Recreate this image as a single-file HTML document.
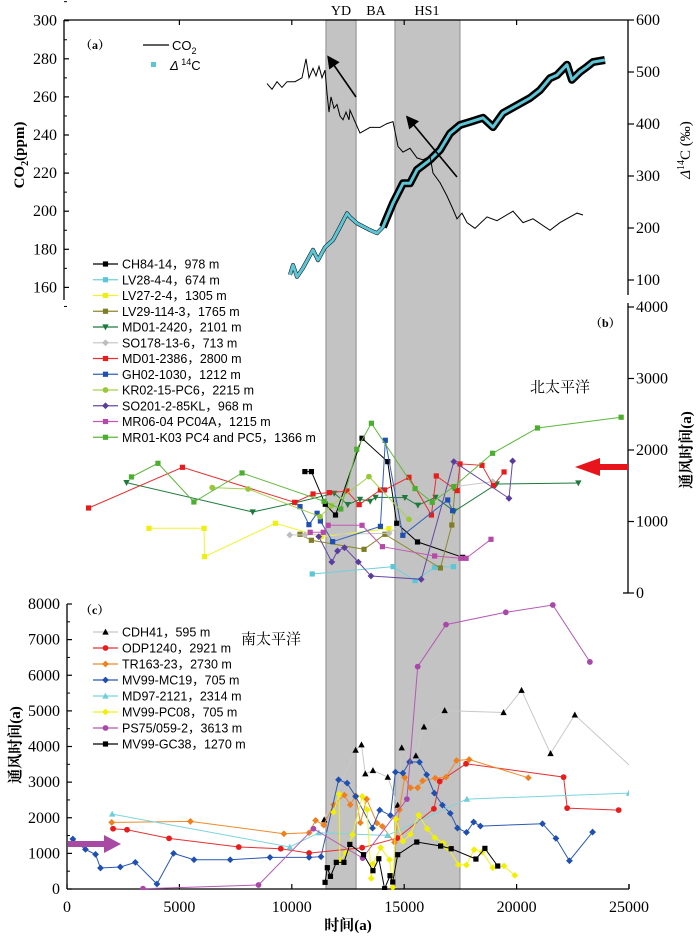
<!DOCTYPE html>
<html><head><meta charset="utf-8"><style>
html,body{margin:0;padding:0;background:#fff;}
svg{display:block;}
.ser{font-family:"Liberation Serif","Noto Serif CJK SC",serif;}
.san{font-family:"Liberation Sans","Noto Sans CJK SC",sans-serif;}
</style></head><body>
<svg id="fig" width="700" height="938" viewBox="0 0 700 938" xmlns="http://www.w3.org/2000/svg">
<defs><clipPath id="clipc"><rect x="67" y="560" width="562" height="330"/></clipPath>
<marker id="ah" markerWidth="8" markerHeight="8" refX="6" refY="4" orient="auto"><path d="M0,0 L8,4 L0,8 z" fill="#000"/></marker></defs>
<g id="bands"></g>
<g id="axes"></g>
<g id="marks"></g>
<g id="labels">
<text class="ser" x="341" y="15" font-size="14" text-anchor="middle">YD</text>
<text class="ser" x="376" y="15" font-size="14" text-anchor="middle">BA</text>
<text class="ser" x="427" y="15" font-size="14" text-anchor="middle">HS1</text>
<text class="ser" x="80" y="49" font-size="12" font-weight="bold">（a）</text>
<text class="ser" x="590" y="327" font-size="12" font-weight="bold">（b）</text>
<text class="ser" x="80" y="614" font-size="12" font-weight="bold">（c）</text>
<text class="ser" x="530" y="392" font-size="15">北太平洋</text>
<text class="ser" x="241" y="644" font-size="15">南太平洋</text>
<text class="ser" font-size="15" font-weight="bold" transform="translate(24,155) rotate(-90)" text-anchor="middle">CO<tspan font-size="10" dy="4">2</tspan><tspan dy="-4">(ppm)</tspan></text>
<text class="ser" font-size="15" transform="translate(690,150) rotate(-90)" text-anchor="middle"><tspan font-style="italic">Δ</tspan><tspan font-size="10" dy="-6">14</tspan><tspan dy="6">C (‰)</tspan></text>
<text class="ser" font-size="15" font-weight="bold" transform="translate(691,450) rotate(-90)" text-anchor="middle">通风时间(a)</text>
<text class="ser" font-size="15" font-weight="bold" transform="translate(20,745) rotate(-90)" text-anchor="middle">通风时间(a)</text>
<text class="ser" font-size="15" font-weight="bold" x="348" y="930" text-anchor="middle">时间(a)</text>
</g>
<g id="legend"></g>
</svg>
<script>
// ---- panel a data ----
const co2Years=[8896,9119,9341,9563,9786,10141,10453,10631,10764,10942,11076,11209,11343,11476,11565,11654,11743,11876,12010,12143,12277,12410,12544,12588,13033,13477,13922,14234,14500,14723,14945,15257,15568,15835,16146,16280,16591,16902,17169,17347,17570,17792,18148,18682,19126,19838,20283,20728,21484,21929,22685,22952];
const co2Vals=[267,264,268,265,268,268,270,280,270,275,271,276,270,274,262,252,260,254,256,250,248,252,248,253,241,244,244,246,247,234,231,233,228,227,229,220,215,208,201,196,199,194,191,197,195,200,194,196,190,194,199,198];
const d14cYears=[9919,10052,10230,10497,10942,11164,11476,11832,12143,12454,12588,12899,13477,13789,14056,14500,14945,15257,15568,16146,16591,17036,17481,17926,18504,18949,19393,20016,20594,21039,21484,21795,22240,22462,22818,23130,23396,23930];
const d14cVals=[110,129,106,123,158,138,163,177,202,228,221,209,196,190,202,248,286,286,312,331,350,382,398,404,412,394,421,436,450,465,488,494,514,485,500,510,519,523];
// ---- panel b data ----
const ch84Y=[10582,10873,11490,11944,13124,14268,14667,15593,17600];
const ch84V=[1698,1698,1241,1091,2164,1837,975,714,499];
const lv28Y=[10909,14504,15484,16355,17190];
const lv28V=[266,369,173,359,369];
const lv27Y=[3647,6098,6116,9275,11308,14322];
const lv27V=[905,905,508,975,788,900];
const lv29Y=[10364,10873,13214,14140,16610,17118,17263];
const lv29V=[821,737,611,821,350,951,1464];
const md2420Y=[2648,8258,10183,11889,12488,13033,13487,13723,15030,15611,16392,17227,19115,22746];
const md2420V=[1544,1133,1264,1394,1236,1310,1282,1338,1334,1227,1338,1142,1525,1539];
const so178Y=[9910,10582,14322,17263,18933];
const so178V=[812,812,835,1488,1558];
const md2386Y=[960,5136,10128,10945,11671,12452,12997,13941,14122,15212,16210,16428,17354,17481,18461,18970,19442];
const md2386V=[1189,1758,1268,1385,1404,1427,1236,1441,1441,1618,1091,1637,1432,1805,1786,1502,1693];
const gh02Y=[10364,10763,11126,11272,11816,13941,14159,14939,16936,17154];
const gh02V=[1208,956,1115,1007,718,932,2136,807,1301,1152];
const kr02Y=[6461,8058,11254,11762,13432,15212];
const kr02V=[1474,1455,1068,1222,1628,1031];
const so201Y=[11199,11780,12034,12343,12960,13523,15756,17208,19660,19823];
const so201V=[788,434,588,634,434,238,191,1837,1324,1847];
const mr06Y=[10818,11399,11617,13124,14031,16355,17517,17754,18861];
const mr06V=[849,849,947,947,648,518,485,485,751];
const mr01Y=[2866,4046,5644,7786,11435,12180,12888,13541,15484,16247,17208,18933,20930,24651];
const mr01V=[1623,1814,1273,1679,1282,1175,2010,2374,1460,1269,1488,1954,2308,2458];
// ---- panel c data ----
const cdhY=[11440,12840,13100,13270,13610,14270,14710,14890,15260,15520,15880,16800,19420,20220,21510,22590,26000];
const cdhV=[1944,3897,4047,3234,3327,3140,2355,3963,3598,3738,4551,5009,4953,5580,3804,4888,2900];
const odpY=[2050,2670,4540,7640,9510,10770,13130,14690,16320,16580,17750,22090,22250,24540];
const odpV=[1692,1664,1421,1178,1131,1009,1159,1430,2252,3019,3514,3140,2271,2215];
const trY=[1990,5490,9650,10770,11060,11420,11860,12340,12600,12840,13050,13330,13790,14030,14570,14790,15020,15280,15600,15820,16380,16860,17330,17890,20520];
const trV=[1869,1897,1551,1579,1925,1794,2365,2636,2365,2617,1860,2524,1850,1757,1308,2224,3131,2841,2841,3037,3112,3140,3608,3636,3122];
const mc19Y=[260,820,1270,1490,2370,3040,4000,4740,5650,7260,9030,10770,11300,12080,12460,12840,13590,13910,14390,14610,14940,15240,15680,16000,16340,16700,17050,17370,17770,18090,18390,21150,21750,22350,23380];
const mc19V=[1402,1112,972,589,617,748,140,1000,822,822,888,888,907,3065,2972,2598,1710,2215,2065,3280,3252,3570,3561,3206,2692,2355,2122,1710,1589,1879,1766,1832,1421,794,1598];
const md97Y=[2010,9910,11200,14250,17790,25000];
const md97V=[2103,1178,1579,1505,2523,2692];
const pc08Y=[11860,12100,12140,12400,12700,13130,13350,13530,13610,13950,14350,14490,14630,14940,15280,15640,16020,16360,16730,16960,17410,17770,18110,18470,18940,19440,19920];
const pc08V=[2159,2664,794,1009,1523,2598,2224,299,701,1159,822,47,1963,1336,1533,2075,1692,1439,1290,1140,682,673,1103,1037,598,645,383];
const ps75Y=[3380,8520,10960,13150,15120,15600,16860,19520,21610,23260];
const ps75V=[9,112,1692,869,2523,6243,7421,7767,7972,6374];
const gc38Y=[11480,11580,11720,11980,12320,12580,13190,13610,13870,14130,14370,14490,14710,15560,16620,17090,18190,18590,19160];
const gc38V=[187,598,355,748,748,1252,963,514,850,9,374,196,963,1318,1206,1131,841,1140,645];
// ---- tick labels ----
const xTicks=[0,5000,10000,15000,20000,25000];
const co2Ticks=[160,180,200,220,240,260,280,300];
const d14cTicks=[100,200,300,400,500,600];
const bTicks=[0,1000,2000,3000,4000];
const cTicks=[0,1000,2000,3000,4000,5000,6000,7000,8000];
const bandStarts=[11520,14590];
const bandEnds=[12860,17480];

const NS="http://www.w3.org/2000/svg";
const X=y=>67+y*0.02248;
const YA=v=>20.7+(300-v)*1.905;
const YD=v=>20+(600-v)*0.52;
const YB=v=>593-v*0.0715;
const YC=v=>889-v*0.035625;
function mk(tag,attrs,parent){const e=document.createElementNS(NS,tag);for(const k in attrs)e.setAttribute(k,attrs[k]);parent.appendChild(e);return e;}
const G=id=>document.getElementById(id);

for(let i=0;i<bandStarts.length;i++){
  const r=mk('rect',{x:X(bandStarts[i]),y:20,width:X(bandEnds[i])-X(bandStarts[i]),height:869,fill:'#c3c3c3',stroke:'#9a9a9a','stroke-width':1.2},G('bands'));
  
  
}
const ax=G('axes');
function line(x1,y1,x2,y2,w,name){const l=mk('line',{x1,y1,x2,y2,stroke:'#000','stroke-width':w||1.3},ax);return l;}
function txt(x,y,s,anchor,parent,name,size){const t=mk('text',{x,y,'font-size':size||15,'text-anchor':anchor||'start',class:'ser'},parent||ax);t.textContent=s;return t;}
line(64,20,628,20,1.3,'panel-a-top-axis');
line(64,20,64,300,1.3,'co2-axis');
line(628,20,628,295,1.3,'d14c-axis');
line(628,303,628,593,1.3,'panel-b-axis');
line(623,593,628,593,1.3,'panel-b-axis-foot');
line(67,604,67,889,1.3,'panel-c-y-axis');
line(67,889,629,889,1.3,'panel-c-x-axis');
line(629,884,629,889,1.3,'panel-c-x-axis-end');
co2Ticks.forEach(v=>{line(64,YA(v),69,YA(v),1.2,'co2-tick');line(64,YA(v+10),67,YA(v+10),1,'co2-minor-tick');txt(57,YA(v)+5,String(v),'end',ax,'co2-tick-label',16);});
line(64,YA(150),67,YA(150),1,'co2-minor-tick');
d14cTicks.forEach(v=>{line(628,YD(v),634,YD(v),1.2,'d14c-tick');txt(636,YD(v)+5,String(v),'start',ax,'d14c-tick-label',16);});
bTicks.forEach(v=>{line(628,YB(v),634,YB(v),1.2,'b-tick');txt(636,YB(v)+5,String(v),'start',ax,'b-tick-label',16);});
[5000,10000,15000,20000].forEach(v=>line(X(v),20,X(v),25,1.2,'top-tick'));
cTicks.forEach(v=>{line(67,YC(v),72,YC(v),1.2,'c-tick');if(v<8000)line(67,YC(v+500),70,YC(v+500),1,'c-minor-tick');txt(60,YC(v)+5,String(v),'end',ax,'c-tick-label',16);});
xTicks.forEach(v=>{line(X(v),889,X(v),884,1.2,'x-tick');txt(X(v),912,String(v),'middle',ax,'x-tick-label',16);});

function marker(shape,x,y,color,parent,s){s=s||2.6;let e;
  if(shape==='sq')e=mk('rect',{x:x-s,y:y-s,width:2*s,height:2*s,fill:color},parent);
  else if(shape==='ci')e=mk('circle',{cx:x,cy:y,r:s+0.3,fill:color},parent);
  else if(shape==='tu')e=mk('path',{d:`M${x},${y-s-0.8}L${x+s+0.6},${y+s}L${x-s-0.6},${y+s}Z`,fill:color},parent);
  else if(shape==='td')e=mk('path',{d:`M${x},${y+s+0.8}L${x+s+0.6},${y-s}L${x-s-0.6},${y-s}Z`,fill:color},parent);
  else e=mk('path',{d:`M${x},${y-s-0.8}L${x+s+0.8},${y}L${x},${y+s+0.8}L${x-s-0.8},${y}Z`,fill:color},parent);
  
  
  return e;}
function series(name,xs,vs,yf,lc,mc,shape,clip){
  const g=mk('g',{},G('marks'));
  
  
  if(clip)g.setAttribute('clip-path','url(#clipc)');
  const d=xs.map((y,i)=>(i?'L':'M')+X(y).toFixed(1)+','+yf(vs[i]).toFixed(1)).join('');
  const p=mk('path',{d,fill:'none',stroke:lc,'stroke-width':1},g);
  
  
  xs.forEach((y,i)=>marker(shape,X(y),yf(vs[i]),mc,g));
}
const ga=mk('g',{},G('marks'));


const dD=d14cYears.map((y,i)=>(i?'L':'M')+X(y).toFixed(1)+','+YD(d14cVals[i]).toFixed(1)).join('');
let first=true;
const dE=d14cYears.map((y,i)=>{if(y<14000)return '';const s=(first?'M':'L')+X(y).toFixed(1)+','+YD(d14cVals[i]).toFixed(1);first=false;return s;}).join('');
const env0=mk('path',{d:dD,fill:'none',stroke:'#000','stroke-width':4,'stroke-linejoin':'round'},ga);


const env=mk('path',{d:dE,fill:'none',stroke:'#000','stroke-width':8,'stroke-linejoin':'round'},ga);


const dl=mk('path',{d:dD,fill:'none',stroke:'#5cc6d6','stroke-width':3,'stroke-linejoin':'round'},ga);


const cl=mk('path',{d:co2Years.map((y,i)=>(i?'L':'M')+X(y).toFixed(1)+','+YA(co2Vals[i]).toFixed(1)).join(''),fill:'none',stroke:'#000','stroke-width':1},ga);


const a1=mk('line',{x1:356,y1:97,x2:329,y2:58,stroke:'#000','stroke-width':1.6,'marker-end':'url(#ah)'},ga);


const a2=mk('line',{x1:457,y1:177,x2:408,y2:118,stroke:'#000','stroke-width':1.6,'marker-end':'url(#ah)'},ga);



const bS=[
 ['CH84-14，978 m',ch84Y,ch84V,'#000','#000','sq'],
 ['LV28-4-4，674 m',lv28Y,lv28V,'#6fd0dc','#5cc6d6','sq'],
 ['LV27-2-4，1305 m',lv27Y,lv27V,'#f2f230','#eeee10','sq'],
 ['LV29-114-3，1765 m',lv29Y,lv29V,'#8c8a2e','#7f7d25','sq'],
 ['MD01-2420，2101 m',md2420Y,md2420V,'#1e7a3c','#1e7a3c','td'],
 ['SO178-13-6，713 m',so178Y,so178V,'#c9c9c9','#bdbdbd','di'],
 ['MD01-2386，2800 m',md2386Y,md2386V,'#e83030','#e81c1c','sq'],
 ['GH02-1030，1212 m',gh02Y,gh02V,'#3060b8','#1f4fb0','sq'],
 ['KR02-15-PC6，2215 m',kr02Y,kr02V,'#a6d24a','#98c83a','ci'],
 ['SO201-2-85KL，968 m',so201Y,so201V,'#6848a8','#5a3c9e','di'],
 ['MR06-04 PC04A，1215 m',mr06Y,mr06V,'#c458b8','#b64aa8','sq'],
 ['MR01-K03 PC4 and PC5，1366 m',mr01Y,mr01V,'#5cb83a','#4cae2e','sq']];
bS.forEach(s=>series('b-'+s[0].split('，')[0].toLowerCase().replace(/[^a-z0-9]+/g,'-'),s[1],s[2],YB,s[3],s[4],s[5]));
const cS=[
 ['CDH41，595 m',cdhY,cdhV,'#c8c8c8','#000','tu'],
 ['ODP1240，2921 m',odpY,odpV,'#e83030','#e81c1c','ci'],
 ['TR163-23，2730 m',trY,trV,'#f08a2a','#f07f1c','di'],
 ['MV99-MC19，705 m',mc19Y,mc19V,'#2a58b4','#1f4fb0','di'],
 ['MD97-2121，2314 m',md97Y,md97V,'#7ad4de','#6ccfda','tu'],
 ['MV99-PC08，705 m',pc08Y,pc08V,'#f2f220','#f0f000','di'],
 ['PS75/059-2，3613 m',ps75Y,ps75V,'#b458b4','#a848a8','ci'],
 ['MV99-GC38，1270 m',gc38Y,gc38V,'#000','#000','sq']];
cS.forEach(s=>series('c-'+s[0].split('，')[0].toLowerCase().replace(/[^a-z0-9]+/g,'-'),s[1],s[2],YC,s[3],s[4],s[5],true));

const ra=mk('path',{d:'M628,464 L600,464 L600,458 L575,467 L600,476 L600,470 L628,470 Z',fill:'#e8141c'},G('marks'));


const pa=mk('path',{d:'M68,841 L104,841 L104,835 L121,844 L104,853 L104,847 L68,847 Z',fill:'#a84aa4'},G('marks'));



const lg=G('legend');
function legEntry(x,y,label,lc,mc,shape,name){
  const g=mk('g',{},lg);
  
  
  const l=mk('line',{x1:x,y1:y,x2:x+25,y2:y,stroke:lc,'stroke-width':1.2},g);
  
  
  if(shape)marker(shape,x+12.5,y,mc,g);
  const t=txt(x+29,y+4.5,label,'start',g,'legend-label',12.5);
  t.setAttribute('class','san');
}
bS.forEach((s,i)=>legEntry(93,264+15.75*i,s[0],s[3],s[4],s[5],'legend-entry-b'));
cS.forEach((s,i)=>legEntry(93,632+16*i,s[0],s[3],s[4],s[5],'legend-entry-c'));
const la=mk('line',{x1:143,y1:45,x2:169,y2:45,stroke:'#000','stroke-width':1.2},lg);


const lt=txt(172,50,'CO','start',lg,'legend-co2-label',13);lt.setAttribute('class','san');
const sub=mk('tspan',{'font-size':9,dy:4},lt);sub.textContent='2';
const sq=mk('rect',{x:151,y:62,width:5,height:5,fill:'#5cc6d6'},lg);


const lt2=txt(170,70,'Δ','start',lg,'legend-d14c-label',13);lt2.setAttribute('class','san');lt2.setAttribute('font-style','italic');
const s2=mk('tspan',{'font-size':9,dy:-5,'font-style':'normal'},lt2);s2.textContent=' 14';
const s3=mk('tspan',{dy:5,'font-style':'normal'},lt2);s3.textContent='C';
</script>
</body></html>
